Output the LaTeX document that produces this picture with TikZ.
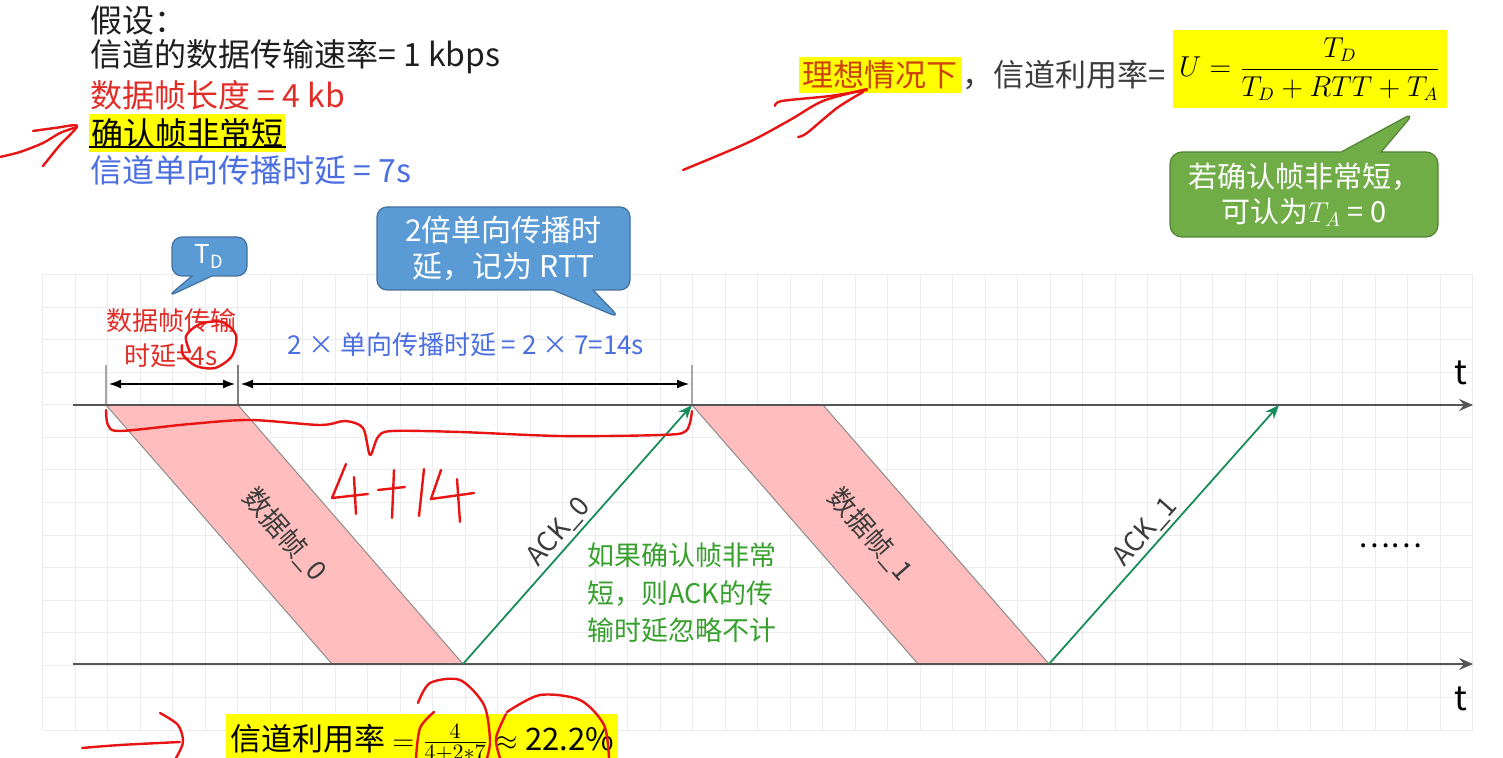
\documentclass[tikz,border=0pt]{standalone}
\usepackage{amsmath}
\usepackage{fontspec}
\setmainfont{Noto Sans CJK SC}
\usetikzlibrary{positioning,shapes.callouts,arrows.meta}

\definecolor{gridgray}{RGB}{236,236,236}
\definecolor{axisgray}{RGB}{85,85,85}
\definecolor{framepink}{RGB}{255,189,189}
\definecolor{frameedge}{RGB}{140,140,140}
\definecolor{ackgreen}{RGB}{25,140,90}
\definecolor{callblue}{RGB}{91,155,213}
\definecolor{callblueedge}{RGB}{65,113,156}
\definecolor{callgreen}{RGB}{112,173,71}
\definecolor{callgreenedge}{RGB}{84,130,53}
\definecolor{textred}{RGB}{225,45,40}
\definecolor{textblue}{RGB}{75,110,225}
\definecolor{textgreen}{RGB}{55,160,45}
\definecolor{textdark}{RGB}{30,30,30}
\definecolor{textgray}{RGB}{60,60,60}
\definecolor{idealred}{RGB}{205,65,10}
\definecolor{inkred}{RGB}{232,20,20}
\definecolor{hlyellow}{RGB}{255,255,0}

\newcommand{\fsz}[2]{\fontsize{#1}{#2}\selectfont}

\begin{document}
\begin{tikzpicture}[x=0.5pt,y=-0.5pt,
    gridline/.style={gridgray,line width=0.5pt},
    axis/.style={axisgray,line width=1pt,-{Stealth[length=7pt,width=6pt,inset=2.5pt]}},
    dimline/.style={black,line width=0.6pt,{Latex[length=6pt,width=4.5pt]}-{Latex[length=6pt,width=4.5pt]},shorten <=1.5pt,shorten >=1.5pt},
    tickline/.style={gray!70,line width=0.6pt},
    frame/.style={fill=framepink,draw=frameedge,line width=0.5pt},
    framelabel/.style={rotate=-48.9,text=textgray,font=\fsz{13.5}{16}},
    ack/.style={ackgreen,line width=0.9pt,-{Stealth[length=7pt,width=5.5pt]}},
    acklabel/.style={sloped,above,pos=0.47,inner sep=1.5pt,text=textgray,font=\fsz{13.5}{16}},
    hl/.style={fill=hlyellow,inner sep=2pt},
    txt/.style={anchor=west,inner sep=0pt,font=\fsz{16}{19}},
    bluecall/.style={rectangle callout,rounded corners=5pt,fill=callblue,draw=callblueedge,line width=0.6pt,text=white},
    greencall/.style={rectangle callout,rounded corners=6pt,fill=callgreen,draw=callgreenedge,line width=0.6pt,text=white},
    tlabel/.style={inner sep=0pt,font=\fsz{17}{20}},
    ink/.style={inkred,line width=1.2pt,line cap=round,line join=round}]
\useasboundingbox (0,0) rectangle (1503,758);

% background grid
\foreach \gx in {0,...,44}
  \draw[gridline] ({42.5+32.5*\gx},275) -- ({42.5+32.5*\gx},730);
\foreach \gy in {0,...,14}
  \draw[gridline] (42.5,{275+32.5*\gy}) -- (1472.5,{275+32.5*\gy});

% assumptions
\node[txt,text=textdark] (hyp) at (90,20) {假设：};
\node[txt,text=textdark] (rate) at (90,57) {信道的数据传输速率= 1 kbps};
\node[txt,text=textred] (flen) at (90,95) {数据帧长度 = 4 kb};
\node[txt,hl,inner xsep=1pt] (ackshort) at (89,133) {确认帧非常短};
\draw[black,line width=0.9pt] ([yshift=2.5pt]ackshort.south west) -- ([yshift=2.5pt]ackshort.south east);
\node[txt,text=textblue] (prop) at (90,170) {信道单向传播时延 = 7s};

% utilisation formula
\node[hl,text=idealred,font=\fsz{15.5}{18}] (ideal) at (880,75) {理想情况下};
\node[right=0pt of ideal,inner sep=0pt,text=textgray,font=\fsz{15.5}{18}] (utileq) {，信道利用率=};
\node[hl,minimum width=135pt,minimum height=39pt,inner xsep=3pt,font=\fsz{13.5}{16}] (formula) at (1310,69) {$U=\dfrac{T_D}{T_D+RTT+T_A}$};
\coordinate (tatip) at (1415,112);
\node[greencall,minimum width=134pt,minimum height=42.5pt,callout absolute pointer={(tatip)},callout pointer width=20pt,align=center,font=\fsz{14.5}{17.5}] (tacall) at (1304,194.5) {若确认帧非常短，\\可认为$T_A$ = 0};

% callouts above the time line
\coordinate (tdtip) at (167,297);
\node[bluecall,minimum width=37.5pt,minimum height=19.5pt,callout absolute pointer={(tdtip)},callout pointer width=10pt,font=\fsz{13}{15}] (tdcall) at (209.5,256.5) {T\textsubscript{D}};
\coordinate (rtttip) at (620,318);
\node[bluecall,minimum width=126.5pt,minimum height=41.5pt,callout absolute pointer={(rtttip)},callout pointer width=20pt,align=center,font=\fsz{15}{18}] (rttcall) at (503.5,248.5) {2倍单向传播时\\延，记为 RTT};

\node[text=textred,align=center,inner sep=0pt,font=\fsz{13}{17.5}] (tdlbl) at (171,338) {数据帧传输\\时延=4s};
\node[text=textblue,inner sep=0pt,font=\fsz{13}{15}] (rttlbl) at (466,345) {2 × 单向传播时延 = 2 × 7=14s};

% dimension lines
\coordinate (k0) at (106,365);
\coordinate (k1) at (238,365);
\coordinate (k2) at (692,365);
\coordinate (d0) at (106,384);
\coordinate (d1) at (238,384);
\coordinate (d2) at (692,384);

% time lines
\coordinate (s0) at (73,405);
\coordinate (s1) at (1473,405);
\coordinate (r0) at (73,664);
\coordinate (r1) at (1473,664);

% frames
\coordinate (f0a) at (106,405);
\coordinate (f0b) at (238,405);
\coordinate (f0c) at (463,664);
\coordinate (f0d) at (332,664);
\coordinate (f1a) at (692,405);
\coordinate (f1b) at (823,405);
\coordinate (f1c) at (1049,664);
\coordinate (f1d) at (918,664);
\coordinate (a1end) at (1279,405);

\draw[tickline] (k0) -- (f0a);
\draw[tickline,gray,line width=1.2pt] (k1) -- (f0b);
\draw[tickline] (k2) -- (f1a);
\draw[dimline] (d0) -- (d1);
\draw[dimline] (d1) -- (d2);

\filldraw[frame] (f0a) -- (f0b) -- (f0c) -- (f0d) -- cycle;
\filldraw[frame] (f1a) -- (f1b) -- (f1c) -- (f1d) -- cycle;
\node[framelabel] (fl0) at (284.75,534.5) {数据帧\_0};
\node[framelabel] (fl1) at (870.5,534.5) {数据帧\_1};

\draw[axis] (s0) -- (s1);
\draw[axis] (r0) -- (r1);
\node[tlabel] (tsend) at (1461,373) {t};
\node[tlabel] (trecv) at (1461,699) {t};

\draw[ack] (f0c) -- node[acklabel] {ACK\_0} (f1a);
\draw[ack] (f1c) -- node[acklabel] {ACK\_1} (a1end);

\node[anchor=west,align=left,inner sep=0pt,text=textgreen,font=\fsz{13.5}{18.75}] (acknote) at (587,593) {如果确认帧非常\\短，则ACK的传\\输时延忽略不计};
\node[inner sep=0pt,font=\fsz{15}{16}] (more) at (1390,546) {……};

% result
\node[hl,anchor=base west,inner ysep=5pt,font=\fsz{15.5}{18}] (ubottom) at (226,750) {信道利用率 $=\frac{4}{4+2*7}\approx$ 22.2\%};

% red pen marks
\draw[ink] plot[smooth] coordinates {(0,157) (20,152) (43,143) (60,133) (77,127)};
\draw[ink] plot[smooth] coordinates {(33,131) (55,128) (77,126) (60,145) (43,166)};
\draw[ink] plot[smooth] coordinates {(683,170) (747,143) (790,120) (823,101) (867,89)};
\draw[ink] plot[smooth] coordinates {(775,106) (782,101) (830,96) (867,90)};
\draw[ink] plot[smooth] coordinates {(798,137) (807,133) (837,108) (863,92)};
\draw[ink] plot[smooth] coordinates {(190,352) (186,336) (200,324) (222,322) (236,335) (232,356) (215,368) (196,366) (183,355) (182,345)};
\draw[ink] plot[smooth] coordinates {(106,410) (108,425) (120,431) (190,424) (250,420) (320,425) (345,421) (363,428) (370,455) (378,437) (392,431) (460,432) (560,436) (660,435) (686,431) (692,411)};
\draw[ink] (346,464) -- (332,498) -- (368,494);
\draw[ink] (354,477) -- (356,514);
\draw[ink] (378,490) -- (405,487);
\draw[ink] (394,470) -- (392,518);
\draw[ink] (424,469) -- (419,516);
\draw[ink] (441,470) -- (431,499) -- (474,493);
\draw[ink] (457,479) -- (460,522);
\draw[ink] plot[smooth] coordinates {(82,748) (120,745) (180,742)};
\draw[ink] plot[smooth] coordinates {(160,713) (178,725) (183,742) (176,758)};
\draw[ink] plot[smooth] coordinates {(418,703) (430,683) (460,680) (484,705) (490,740) (487,758)};
\draw[ink] plot[smooth] coordinates {(434,712) (420,728) (416,758)};
\draw[ink] plot[smooth] coordinates {(506,714) (496,738) (500,758)};
\draw[ink] plot[smooth] coordinates {(507,712) (540,695) (580,700) (604,725) (609,758)};
\end{tikzpicture}
\end{document}
